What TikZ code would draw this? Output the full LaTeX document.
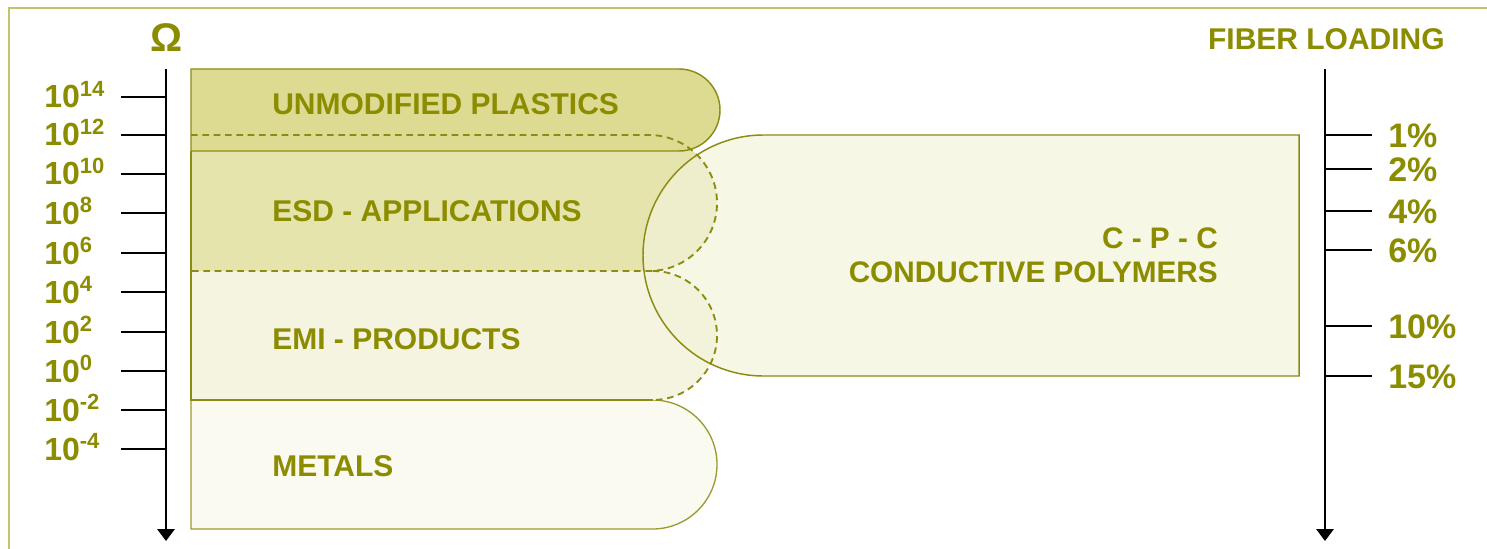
\documentclass[tikz,border=0pt]{standalone}
\usepackage{fontspec}
\setmainfont{Liberation Sans}
\usetikzlibrary{arrows.meta}
\definecolor{olivetxt}{RGB}{140,140,0}
\definecolor{oliveline}{RGB}{140,140,20}
\definecolor{frameline}{RGB}{195,195,110}
\definecolor{unmodfill}{RGB}{221,219,146}
\definecolor{esdfill}{RGB}{229,228,172}
\definecolor{emifill}{RGB}{244,244,224}
\definecolor{metfill}{RGB}{250,250,240}
\definecolor{cpcfill}{RGB}{243,243,218}
\definecolor{metline}{RGB}{155,155,50}
\begin{document}
\begin{tikzpicture}[x=0.75pt,y=-0.75pt,
  regionlab/.style={text=olivetxt,font=\bfseries\fontsize{22.5}{24}\selectfont,inner sep=0pt},
  axislab/.style={text=olivetxt,font=\bfseries\fontsize{24}{24}\selectfont,inner sep=0pt},
  pctlab/.style={text=olivetxt,font=\bfseries\fontsize{25.5}{26}\selectfont,inner sep=0pt},
  axisline/.style={line width=1.6pt,black},
  tickline/.style={line width=1.4pt,black},
  outl/.style={draw=oliveline,line width=1.1pt},
  dashout/.style={draw=oliveline,line width=1.4pt,dash pattern=on 5pt off 3.5pt}]
\useasboundingbox (0,0) rectangle (1487,549);
% frame
\coordinate (ftl) at (9,8);
\coordinate (ftr) at (1487,8);
\coordinate (fbl) at (9,549);
\draw[frameline,line width=1.5pt] (ftr) -- (ftl) -- (fbl);
% metals
\path[fill=metfill,draw=metline,line width=1pt] (191,400) -- (652.5,400) arc[start angle=-90,end angle=90,radius=64.5] -- (191,529) -- cycle;
% EMI
\path[fill=emifill] (191,271) -- (652.5,271) arc[start angle=-90,end angle=90,radius=64.5] -- (191,400) -- cycle;
% ESD
\path[fill=esdfill] (191,135) -- (649,135) arc[start angle=-90,end angle=90,radius=68] -- (191,271) -- cycle;
% unmodified
\path[fill=unmodfill,outl] (191,69) -- (679,69) arc[start angle=-90,end angle=90,radius=41] -- (191,151) -- cycle;
% CPC
\path[fill=cpcfill,fill opacity=0.7,outl] (1299,135) -- (763.5,135) arc[start angle=-90,end angle=-270,radius=120.5] -- (1299,376) -- cycle;
% dashed outlines
\path[dashout] (191,135) -- (649,135) arc[start angle=-90,end angle=90,radius=68] -- (191,271);
\path[dashout] (652.5,271) arc[start angle=-90,end angle=90,radius=64.5];
% solid left edge / EMI bottom
\draw[oliveline,line width=1.3pt] (191,151) -- (191,400) -- (652.5,400);
% region labels
\node[regionlab,anchor=west] (unmod) at (272,104) {UNMODIFIED PLASTICS};
\node[regionlab,anchor=west] (esd) at (272,211) {ESD - APPLICATIONS};
\node[regionlab,anchor=west] (emi) at (272,339) {EMI - PRODUCTS};
\node[regionlab,anchor=west] (met) at (272,466) {METALS};
\node[regionlab,anchor=east,align=right,font=\bfseries\fontsize{22.3}{25.5}\selectfont] (cpc) at (1218,255) {C - P - C\\CONDUCTIVE POLYMERS};
\node[regionlab,anchor=east] (fiber) at (1445,39) {FIBER LOADING};
\node[regionlab,font=\bfseries\fontsize{30}{30}\selectfont] (omega) at (167,38) {Ω};
% left axis
\coordinate (la0) at (166,69);
\coordinate (la1) at (166,541);
\draw[axisline,-{Triangle[width=13pt,length=9pt]}] (la0) -- (la1);
\foreach \y/\e [count=\i] in {97/14,135/12,174/10,213/8,253/6,292/4,332/2,371/0,410/-2,449/-4}{
  \coordinate (lt\i) at (121,\y);
  \coordinate (lta\i) at (166,\y);
  \draw[tickline] (lt\i) -- (lta\i);
  \node[axislab,anchor=base west] (ll\i) at (44,\y+11) {10\raisebox{8.3pt}{\fontsize{16.5}{16}\selectfont\bfseries \e}};
}
% right axis
\coordinate (ra0) at (1325,69);
\coordinate (ra1) at (1325,541);
\draw[axisline,-{Triangle[width=13pt,length=9pt]}] (ra0) -- (ra1);
\foreach \y/\p [count=\i] in {135/1,169/2,211/4,250/6,326/10,376/15}{
  \coordinate (rt\i) at (1325,\y);
  \coordinate (rte\i) at (1372,\y);
  \draw[tickline] (rt\i) -- (rte\i);
  \node[pctlab,anchor=base west] (rl\i) at (1388,\y+12) {\p\%};
}
\end{tikzpicture}
\end{document}
